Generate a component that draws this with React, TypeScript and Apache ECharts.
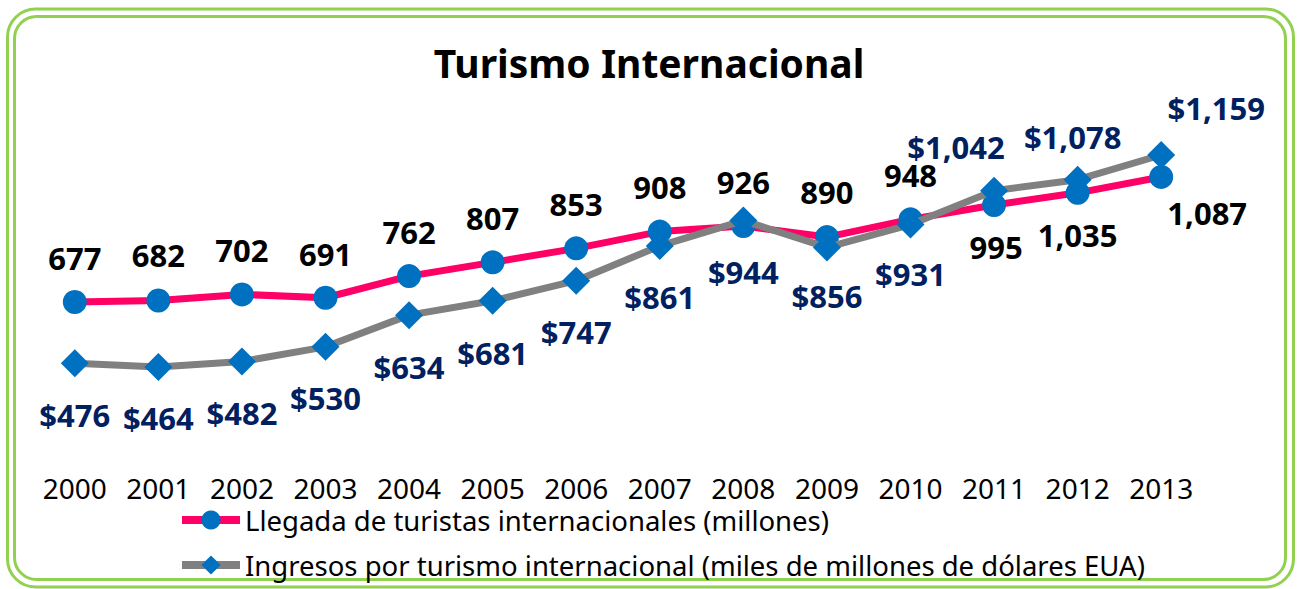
import React, { useEffect, useRef } from "react";
import * as echarts from "echarts";

const years = ["2000", "2001", "2002", "2003", "2004", "2005", "2006", "2007", "2008", "2009", "2010", "2011", "2012", "2013"];
const arrivals = [677, 682, 702, 691, 762, 807, 853, 908, 926, 890, 948, 995, 1035, 1087];
const receipts = [476, 464, 482, 530, 634, 681, 747, 861, 944, 856, 931, 1042, 1078, 1159];
const seriesNames = [
  "Llegada de turistas internacionales (millones)",
  "Ingresos por turismo internacional (miles de millones de dólares EUA)",
];
const titleText = "Turismo Internacional";

// label placement (center offset from the point), style only
const arrivalsLabelOffsets: [number, number][] = [
  [0, -44], [0, -45], [0, -44], [0, -44], [0, -44], [0, -44], [0, -44],
  [0, -45], [0, -44], [0, -45], [0, -44], [2, 42], [0, 42], [46, 36],
];
const receiptsLabelOffsets: [number, number][] = [
  [0, 52], [0, 51], [0, 52], [0, 51], [0, 52], [0, 52], [0, 51],
  [0, 51], [0, 51], [0, 49], [0, 49], [-38, -44], [-5, -43], [55, -47],
];

const FONT = "Noto Sans";

export default function App() {
  const ref = useRef<HTMLDivElement>(null);
  useEffect(() => {
    if (!ref.current) return;
    const chart = echarts.init(ref.current, undefined, { renderer: "svg" });
    const fmt = (v: number) => v.toLocaleString("en-US");
    const legendBase = {
      orient: "horizontal",
      left: 173,
      itemWidth: 58,
      itemHeight: 24,
      lineStyle: { width: 8 },
      textStyle: { fontFamily: FONT, fontSize: 27.5, lineHeight: 24, color: "#000" },
    };
    chart.setOption({
      animation: false,
      backgroundColor: "#ffffff",
      title: {
        text: titleText,
        left: "center",
        top: 38,
        textStyle: { fontFamily: FONT, fontSize: 39, fontWeight: "bold", color: "#000" },
      },
      grid: { left: 33, right: 95, top: 112, bottom: 111 },
      xAxis: {
        type: "category",
        data: years,
        boundaryGap: true,
        axisLine: { show: false },
        axisTick: { show: false },
        axisLabel: { fontFamily: FONT, fontSize: 28, lineHeight: 22, color: "#000", margin: -1 },
      },
      yAxis: {
        type: "value",
        min: 100,
        max: 1300,
        show: false,
        splitLine: { show: false },
      },
      legend: [
        { ...legendBase, top: 501, data: [seriesNames[0]] },
        { ...legendBase, top: 546, data: [seriesNames[1]] },
      ],
      graphic: [
        {
          type: "rect",
          shape: { x: 7.5, y: 9, width: 1286, height: 578, r: 28 },
          style: { fill: "none", stroke: "#92D050", lineWidth: 3 },
        },
        {
          type: "rect",
          shape: { x: 14.5, y: 16.5, width: 1271, height: 563, r: 22 },
          style: { fill: "none", stroke: "#92D050", lineWidth: 3 },
        },
      ],
      series: [
        {
          name: seriesNames[0],
          type: "line",
          symbol: "circle",
          symbolSize: 24,
          lineStyle: { color: "#FF0066", width: 7 },
          itemStyle: { color: "#0070C0" },
          z: 2,
          label: {
            show: true,
            position: "inside",
            formatter: (p: any) => fmt(p.value),
            fontFamily: FONT,
            fontSize: 31,
            fontWeight: "bold",
            color: "#000000",
          },
          data: arrivals.map((v, i) => ({ value: v, label: { offset: arrivalsLabelOffsets[i] } })),
        },
        {
          name: seriesNames[1],
          type: "line",
          symbol: "diamond",
          symbolSize: 28,
          lineStyle: { color: "#808080", width: 7 },
          itemStyle: { color: "#0070C0" },
          z: 3,
          label: {
            show: true,
            position: "inside",
            formatter: (p: any) => "$" + fmt(p.value),
            fontFamily: FONT,
            fontSize: 31,
            fontWeight: "bold",
            color: "#002060",
          },
          data: receipts.map((v, i) => ({ value: v, label: { offset: receiptsLabelOffsets[i] } })),
        },
      ],
    });
    return () => chart.dispose();
  }, []);
  return (
    <div
      ref={ref}
      style={{ position: "fixed", left: 0, top: 0, width: 1298, height: 589 }}
    />
  );
}
